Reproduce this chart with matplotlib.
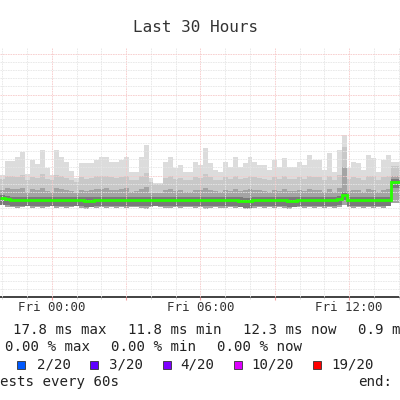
import numpy as np
import matplotlib
matplotlib.use("Agg")
import matplotlib.pyplot as plt
from matplotlib.ticker import MultipleLocator, FuncFormatter

# --- Data (ms), one value per 12 minute column, hours relative to Fri 00:00 ---
t_start = -2.1
col_hours = 0.2

smoke_max = [15.1, 16.8, 16.8, 17.3, 17.9, 15.2, 16.9, 16.4, 18.1, 15.9,
             15.1, 18.1, 17.3, 16.7, 15.6, 14.7, 16.5, 16.5, 16.5, 16.9,
             17.3, 17.3, 16.7, 16.7, 16.9, 17.3, 15.4, 15.4, 17.3, 18.8,
             14.7, 14.1, 14.1, 16.7, 17.3, 15.9, 16.3, 15.4, 15.4, 16.7,
             16.3, 18.4, 16.5, 15.7, 15.4, 16.7, 16.0, 17.3, 16.0, 16.5,
             17.3, 16.7, 16.3, 16.3, 15.7, 16.9, 16.0, 17.2, 16.0, 16.0,
             16.7, 16.3, 17.5, 16.9, 16.9, 15.7, 17.8, 15.4, 18.1, 20.0,
             15.9, 16.7, 16.5, 15.7, 17.5, 17.2, 15.4, 16.9, 17.5, 16.7, 16.7]

smoke_hi = [14.6, 14.9, 15.0, 14.8, 15.1, 14.5, 14.8, 14.7, 15.2, 14.6,
            14.4, 15.1, 14.9, 14.7, 14.5, 14.2, 14.8, 14.6, 14.7, 14.9,
            14.9, 15.0, 14.8, 14.7, 14.8, 15.0, 14.4, 14.5, 14.9, 15.3,
            14.2, 14.0, 14.0, 14.7, 14.9, 14.6, 14.7, 14.4, 14.5, 14.8,
            14.7, 15.2, 14.8, 14.5, 14.4, 14.8, 14.6, 14.9, 14.6, 14.7,
            14.9, 14.8, 14.7, 14.6, 14.5, 14.8, 14.6, 14.9, 14.6, 14.6,
            14.8, 14.6, 15.0, 14.8, 14.8, 14.5, 15.0, 14.4, 15.1, 18.5,
            14.6, 14.8, 14.7, 14.5, 15.0, 14.9, 14.4, 14.8, 15.0, 16.2, 16.2]

smoke_mid = [13.2, 13.4, 13.3, 13.3, 13.5, 13.0, 13.3, 13.2, 13.5, 13.1,
             13.0, 13.4, 13.3, 13.2, 13.1, 12.9, 13.2, 13.1, 13.2, 13.3,
             13.3, 13.4, 13.2, 13.2, 13.3, 13.4, 13.0, 13.1, 13.3, 13.6,
             12.9, 12.8, 12.8, 13.2, 13.3, 13.1, 13.2, 13.0, 13.0, 13.2,
             13.2, 13.5, 13.2, 13.1, 13.0, 13.2, 13.1, 13.3, 13.1, 13.2,
             13.3, 13.2, 13.2, 13.1, 13.0, 13.2, 13.1, 13.3, 13.1, 13.1,
             13.2, 13.1, 13.3, 13.2, 13.2, 13.0, 13.3, 13.0, 13.4, 16.0,
             13.1, 13.2, 13.2, 13.0, 13.3, 13.2, 13.0, 13.2, 13.3, 15.0, 15.0]

smoke_lo = [11.3, 11.1, 11.1, 11.0, 11.1, 11.2, 11.0, 11.1, 11.0, 11.1,
            11.2, 11.0, 11.1, 11.0, 11.1, 11.2, 11.0, 10.9, 11.1, 11.0,
            11.1, 11.0, 11.1, 11.0, 11.1, 11.0, 11.1, 11.1, 11.0, 10.9,
            11.1, 11.2, 11.1, 11.0, 11.0, 11.1, 11.0, 11.1, 11.1, 11.0,
            11.1, 10.9, 11.0, 11.1, 11.0, 11.0, 11.1, 11.0, 11.1, 10.9,
            10.9, 11.0, 11.1, 11.0, 11.1, 11.0, 11.1, 11.0, 10.9, 11.1,
            11.1, 11.0, 11.1, 11.0, 11.1, 11.0, 11.1, 11.0, 11.1, 11.3,
            11.1, 11.0, 11.1, 11.0, 11.1, 11.0, 11.1, 11.0, 11.2, 11.6, 11.6]

median = [12.2, 12.1, 12.0, 12.0, 12.0, 12.0, 12.0, 12.0, 12.0, 12.0,
          12.0, 12.0, 12.0, 12.0, 12.0, 12.0, 12.0, 11.9, 11.9, 12.0,
          12.0, 12.0, 12.0, 12.0, 12.0, 12.0, 12.0, 12.0, 12.0, 12.0,
          12.0, 12.0, 12.0, 12.0, 12.0, 12.0, 12.0, 12.0, 12.0, 12.0,
          12.0, 12.0, 12.0, 12.0, 12.0, 12.0, 12.0, 12.0, 11.9, 11.8,
          11.8, 12.0, 12.0, 12.0, 12.0, 12.0, 12.0, 12.0, 11.9, 11.9,
          12.0, 12.0, 12.0, 12.0, 12.0, 12.0, 12.0, 12.0, 12.1, 12.6,
          12.0, 12.0, 12.0, 12.0, 12.0, 12.0, 12.0, 12.0, 12.0, 14.2, 14.2]

loss_labels = ["2/20", "3/20", "4/20", "10/20", "19/20"]
loss_colors = ["#0059ff", "#5e00ff", "#7e00ff", "#dd00ff", "#ff0000"]

rtt_stats = ["17.8 ms max", "11.8 ms min", "12.3 ms now", "0.9 m"]
loss_stats = ["0.00 % max", "0.00 % min", "0.00 % now"]

edges = t_start + col_hours * np.arange(len(smoke_max) + 1)

# --- Figure ---
fig = plt.figure(figsize=(4, 4), dpi=100)
ax = fig.add_axes([0.0, 1 - 297 / 400, 1.0, 249 / 400])
mono = "DejaVu Sans Mono"

# smoke bands, light to dark
ax.stairs(smoke_max, edges, baseline=smoke_lo, fill=True, color="#dcdcdc", lw=0, zorder=1)
ax.stairs(smoke_hi, edges, baseline=smoke_lo, fill=True, color="#c8c8c8", lw=0, zorder=1.1)
ax.stairs(smoke_mid, edges, baseline=smoke_lo, fill=True, color="#a4a4a4", lw=0, zorder=1.2)
ax.stairs(np.array(median) + 0.4, edges, baseline=np.array(median) - 0.8, fill=True,
          color="#7a7a7a", lw=0, zorder=1.3)
ax.stairs(median, edges, baseline=None, color="#26ff00", lw=2.0, zorder=3)

ax.set_xlim(t_start, 14.06)
ax.set_ylim(0, 249 / 8.1)

# grid (drawn over the smoke like rrdtool)
ax.xaxis.set_major_locator(MultipleLocator(3))
ax.xaxis.set_minor_locator(MultipleLocator(1))
ax.yaxis.set_major_locator(MultipleLocator(5))
ax.yaxis.set_minor_locator(MultipleLocator(1))
ax.grid(which="minor", color="#e6e6e6", lw=0.6, ls=(0, (2, 1)), zorder=2)
ax.grid(which="major", color="#f7caca", lw=0.6, ls=(0, (2, 1)), zorder=2.1)
ax.set_axisbelow(False)

def fmt(h, pos):
    if round(h) % 6 == 0:
        return "Fri %02d:00" % round(h)
    return ""

ax.xaxis.set_major_formatter(FuncFormatter(fmt))
ax.tick_params(axis="x", which="major", length=2, color="#f0a0a0", pad=1,
               labelsize=9, labelcolor="#333333")
ax.tick_params(axis="x", which="minor", length=1.5, color="#cccccc")
for lab in ax.get_xticklabels():
    lab.set_family(mono)
ax.tick_params(axis="y", which="both", left=False, labelleft=False)
for s in ["left", "right", "top"]:
    ax.spines[s].set_visible(False)
ax.spines["bottom"].set_color("#333333")
ax.spines["bottom"].set_linewidth(1.3)

# title
fig.text(196 / 400, 1 - 27 / 400, "Last 30 Hours", ha="center", va="center",
         family=mono, fontsize=11.5, color="#333333")

# legend text (pixel positions)
def put(x, y, s, size=10.2, color="#222222"):
    fig.text(x / 400, 1 - y / 400, s, ha="left", va="center", family=mono,
             fontsize=size, color=color)

for x, s in zip([13, 128, 243, 358], rtt_stats):
    put(x, 330, s)
for x, s in zip([5, 111, 217], loss_stats):
    put(x, 347, s)

sq_x = [17, 90, 163, 234, 313]
lab_x = [37, 109, 180, 251, 331]
for sx, lx, c, s in zip(sq_x, lab_x, loss_colors, loss_labels):
    fig.patches.append(plt.Rectangle((sx / 400, 1 - 368.5 / 400), 8 / 400, 8 / 400,
                                     transform=fig.transFigure, facecolor=c,
                                     edgecolor="#333333", lw=0.6))
    put(lx, 364, s)

put(0, 382, "ests every 60s")
put(358, 382, "end:")

fig.savefig("out.png", dpi=100)
